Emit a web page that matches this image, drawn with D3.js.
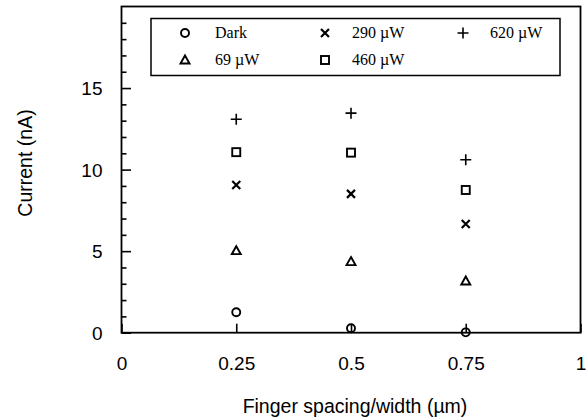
<!DOCTYPE html>
<html><head><meta charset="utf-8">
<script src="https://cdn.jsdelivr.net/npm/d3@7"></script>
<style>body{margin:0;background:#fff}svg{display:block}</style>
</head><body>
<svg id="c" width="587" height="419"></svg>
<script>
const spacing = [0.25, 0.5, 0.75];
const seriesNames = ["Dark", "69 \u00b5W", "290 \u00b5W", "460 \u00b5W", "620 \u00b5W"];
const seriesSymbols = ["circle", "triangle", "cross", "square", "plus"];
const dark = [1.25, 0.27, 0.02];
const p69 = [5.03, 4.36, 3.17];
const p290 = [9.06, 8.51, 6.67];
const p460 = [11.07, 11.04, 8.75];
const p620 = [13.09, 13.46, 10.6];
const seriesValues = [dark, p69, p290, p460, p620];
const xTicks = [0, 0.25, 0.5, 0.75, 1];
const xTickLabels = ["0", "0.25", "0.5", "0.75", "1"];
const yTicks = [0, 5, 10, 15];
const yMinorTicks = d3.range(0, 21, 1);

const svg = d3.select("#c");
const L = 121.5, R = 580.5, T = 6.5, B = 332.7;
const x = d3.scaleLinear().domain([0, 1]).range([L, R]);
const y = d3.scaleLinear().domain([0, 20]).range([B, T]);

function drawSym(g, type, cx, cy) {
  const s = g.append("g").attr("transform", `translate(${cx},${cy})`)
    .attr("fill", "none").attr("stroke", "#000").attr("stroke-width", 1.9);
  if (type === "circle") s.append("circle").attr("r", 4);
  else if (type === "square") s.append("rect").attr("x", -4).attr("y", -4).attr("width", 8).attr("height", 8);
  else if (type === "triangle") s.append("path").attr("d", "M0,-4.5L4.5,3.5L-4.5,3.5Z");
  else if (type === "cross") s.append("path").attr("d", "M-4,-4L4,4M-4,4L4,-4").attr("stroke-width", 2.2);
  else if (type === "plus") s.append("path").attr("d", "M-5.5,0L5.5,0M0,-5.5L0,5.5").attr("stroke-width", 1.6);
}

// x axis ticks (inside)
const xAxis = d3.axisBottom(x).tickValues(xTicks).tickFormat((d, i) => xTickLabels[i]).tickSizeInner(-9).tickSizeOuter(0).tickPadding(0);
const gx = svg.append("g").attr("transform", `translate(0,${B})`).call(xAxis);
gx.select(".domain").remove();
gx.selectAll(".tick line").attr("stroke-width", 1.6);
gx.selectAll(".tick text").attr("font-family", "Liberation Sans, Arial, sans-serif").attr("font-size", 19)
  .attr("y", 37).attr("dy", 0).attr("fill", "#000");

// y minor ticks
const gym = svg.append("g").attr("transform", `translate(${L},0)`)
  .call(d3.axisLeft(y).tickValues(yMinorTicks.filter(d => d % 5 !== 0)).tickSizeInner(-5).tickSizeOuter(0).tickFormat(""));
gym.select(".domain").remove();
gym.selectAll(".tick line").attr("stroke-width", 1.6);
// y major
const gy = svg.append("g").attr("transform", `translate(${L},0)`)
  .call(d3.axisLeft(y).tickValues(yTicks).tickSizeInner(-9.5).tickSizeOuter(0).tickPadding(0));
gy.select(".domain").remove();
gy.selectAll(".tick line").attr("stroke-width", 1.6);
gy.selectAll(".tick text").attr("font-family", "Liberation Sans, Arial, sans-serif").attr("font-size", 19)
  .attr("x", -19).attr("dy", "0.36em").attr("fill", "#000");

// frame
svg.append("rect").attr("x", L).attr("y", T).attr("width", R - L).attr("height", B - T)
  .attr("fill", "none").attr("stroke", "#000").attr("stroke-width", 1.8);

// data
const gd = svg.append("g");
seriesValues.forEach((vals, si) => {
  vals.forEach((v, i) => drawSym(gd, seriesSymbols[si], x(spacing[i]), y(v)));
});

// legend
const lg = svg.append("g");
lg.append("rect").attr("x", 151).attr("y", 18.5).attr("width", 409).attr("height", 57)
  .attr("fill", "#fff").attr("stroke", "#000").attr("stroke-width", 1.5);
const legPos = [[185, 33, 215], [185, 60, 215], [325, 33, 352], [325, 60, 352], [463, 33, 490]];
seriesNames.forEach((n, i) => {
  const [sx, sy, tx] = legPos[i];
  drawSym(lg, seriesSymbols[i], sx, sy);
  lg.append("text").attr("x", tx).attr("y", sy).attr("dy", "0.33em")
    .attr("font-family", "Liberation Serif, Times New Roman, serif").attr("font-size", 16).text(n);
});

// axis labels
svg.append("text").attr("x", 355).attr("y", 413).attr("text-anchor", "middle")
  .attr("font-family", "Liberation Sans, Arial, sans-serif").attr("font-size", 19.5).text("Finger spacing/width (\u00b5m)");
svg.append("text").attr("transform", "translate(32,163) rotate(-90)").attr("text-anchor", "middle")
  .attr("font-family", "Liberation Sans, Arial, sans-serif").attr("font-size", 19.5).text("Current (nA)");
</script>
</body></html>
